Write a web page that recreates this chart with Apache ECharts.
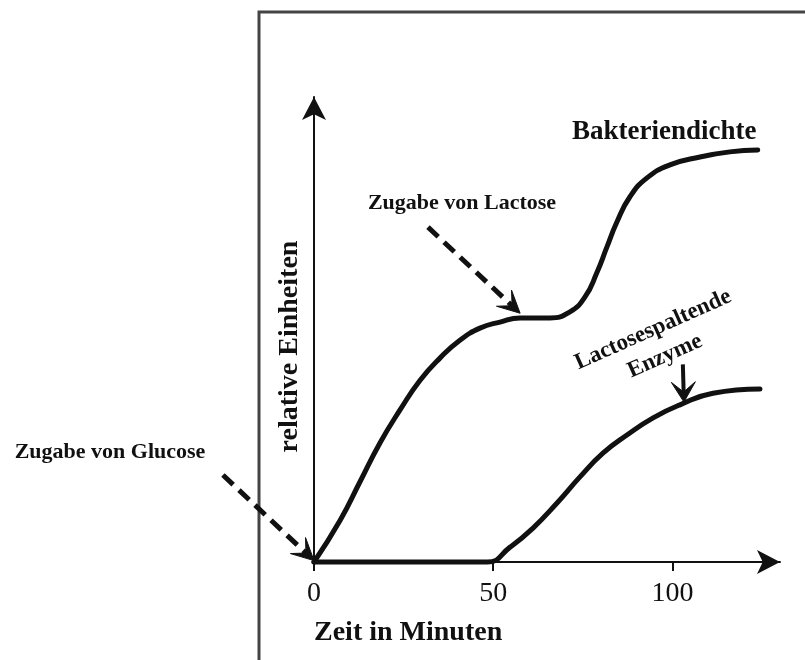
<!DOCTYPE html>
<html>
<head>
<meta charset="utf-8">
<script src="https://cdn.jsdelivr.net/npm/echarts@6/dist/echarts.min.js"></script>
<style>
  html, body { margin: 0; padding: 0; background: #fff; }
  #chart { width: 805px; height: 660px; }
</style>
</head>
<body>
<div id="chart"></div>
<script>
// Time axis ticks (minutes)
const xTicks = [0, 50, 100];

// Bacterial density (relative units) over time
const minutesBacteria = [0, 7.3, 12.8, 18.4, 24, 29.6, 35.2, 40.7, 46.3, 51.9, 57.5, 65.8, 71.4, 75.6, 78.9, 81.7, 84.5, 88.1, 92.9, 99.3, 107.7, 116, 123.8];
const bacteria        = [0, 9.0, 17.2, 25.6, 32.7, 39.1, 43.9, 47.7, 50.3, 51.6, 52.5, 52.5, 53.8, 57.0, 62.2, 67.7, 73.1, 78.5, 82.6, 85.4, 87.1, 88.2, 88.6];

// Lactose-splitting enzymes (relative units) over time
const minutesEnzyme = [0, 48.3, 54.7, 61.1, 67.8, 74.2, 80.6, 87.3, 94.6, 102.1, 111.3, 124.4];
const enzyme        = [0, 0, 3.2, 7.3, 12.7, 18.3, 23.4, 27.3, 31.0, 33.8, 36.3, 37.2];

const INK = '#111';
const SERIF = '"Liberation Serif", "DejaVu Serif", serif';

const zip = (xs, ys) => xs.map((x, i) => [x, ys[i]]);

const chart = echarts.init(document.getElementById('chart'), null, { renderer: 'canvas' });

chart.setOption({
  backgroundColor: '#fff',
  animation: false,
  grid: { left: 314, right: 25, top: 97, bottom: 98, containLabel: false },
  xAxis: {
    type: 'value',
    min: 0,
    max: 130,
    interval: 50,
    axisLine: {
      show: true,
      symbol: ['none', 'arrow'],
      symbolSize: [18, 23],
      lineStyle: { color: INK, width: 2 }
    },
    axisTick: {
      show: true, length: 9, customValues: xTicks,
      lineStyle: { color: INK, width: 2 }
    },
    axisLabel: {
      color: INK, fontFamily: SERIF, fontSize: 28, margin: 18,
      customValues: xTicks
    },
    splitLine: { show: false },
    name: 'Zeit in Minuten',
    nameLocation: 'start',
    nameGap: 0,
    nameTextStyle: {
      color: INK, fontFamily: SERIF, fontSize: 28, fontWeight: 'bold',
      align: 'left', verticalAlign: 'top', padding: [57, 0, 0, 0]
    }
  },
  yAxis: {
    type: 'value',
    min: 0,
    max: 100,
    axisLine: {
      show: true,
      symbol: ['none', 'arrow'],
      symbolSize: [18, 23],
      lineStyle: { color: INK, width: 2 }
    },
    axisTick: { show: false },
    axisLabel: { show: false },
    splitLine: { show: false },
    name: 'relative Einheiten',
    nameLocation: 'middle',
    nameRotate: 90,
    nameGap: 10,
    nameTextStyle: {
      color: INK, fontFamily: SERIF, fontSize: 28, fontWeight: 'bold',
      padding: [0, 34, 0, 0]
    }
  },
  series: [
    {
      name: 'Lactosespaltende Enzyme',
      type: 'line',
      data: zip(minutesEnzyme, enzyme),
      smooth: 0.5,
      showSymbol: false,
      clip: false,
      lineStyle: { color: INK, width: 5, cap: 'round' }
    },
    {
      name: 'Bakteriendichte',
      type: 'line',
      data: zip(minutesBacteria, bacteria),
      smooth: 0.5,
      showSymbol: false,
      clip: false,
      lineStyle: { color: INK, width: 5, cap: 'round' }
    }
  ]
});

// ---- annotations: frame, labels and pointer arrows ----
const px = (x, y) => chart.convertToPixel({ gridIndex: 0 }, [x, y]);

function arrow(from, to, opts) {
  const a = px(from[0], from[1]);
  const b = px(to[0], to[1]);
  const dx = b[0] - a[0], dy = b[1] - a[1];
  const len = Math.hypot(dx, dy);
  const ux = dx / len, uy = dy / len;
  const nx = -uy, ny = ux;
  const L = opts.headLen, W = opts.headWidth / 2, notch = L * 0.5;
  const base = [b[0] - ux * L, b[1] - uy * L];
  const notchPt = [b[0] - ux * (L - notch), b[1] - uy * (L - notch)];
  return [
    {
      type: 'line',
      shape: { x1: a[0], y1: a[1], x2: notchPt[0], y2: notchPt[1] },
      style: { stroke: INK, lineWidth: opts.width, lineDash: opts.dash || null, lineCap: 'butt' },
      z: 10
    },
    {
      type: 'polygon',
      shape: {
        points: [
          b,
          [base[0] + nx * W, base[1] + ny * W],
          notchPt,
          [base[0] - nx * W, base[1] - ny * W]
        ]
      },
      style: { fill: INK, stroke: INK, lineWidth: 1, lineJoin: 'miter' },
      z: 10
    }
  ];
}

const labelStyle = (size) => ({
  fill: INK,
  font: 'bold ' + size + 'px ' + SERIF
});

const graphics = [
  // outer frame
  {
    type: 'polyline',
    shape: { points: [[259, 670], [259, 12], [815, 12]] },
    style: { stroke: '#444', lineWidth: 3, fill: null },
    silent: true
  },
  {
    type: 'text', x: 572, y: 132,
    style: Object.assign({ text: 'Bakteriendichte', align: 'left', verticalAlign: 'middle' }, labelStyle(27))
  },
  {
    type: 'text', x: 462, y: 203,
    style: Object.assign({ text: 'Zugabe von Lactose', align: 'center', verticalAlign: 'middle' }, labelStyle(22))
  },
  {
    type: 'text', x: 110, y: 452,
    style: Object.assign({ text: 'Zugabe von Glucose', align: 'center', verticalAlign: 'middle' }, labelStyle(22))
  },
  {
    type: 'text', x: 659, y: 343, rotation: 24 * Math.PI / 180,
    style: Object.assign({
      text: 'Lactosespaltende\nEnzyme', align: 'center', verticalAlign: 'middle', lineHeight: 29
    }, labelStyle(23))
  }
]
  .concat(arrow([-25.4, 18.7], [0, 0.3], { width: 5, dash: [14, 8], headLen: 22, headWidth: 22 }))
  .concat(arrow([31.8, 72], [57.5, 53.5], { width: 5, dash: [14, 8], headLen: 22, headWidth: 22 }))
  .concat(arrow([102.9, 42.5], [103.2, 34.4], { width: 4, headLen: 20, headWidth: 24 }));

chart.setOption({ graphic: graphics });
</script>
</body>
</html>
